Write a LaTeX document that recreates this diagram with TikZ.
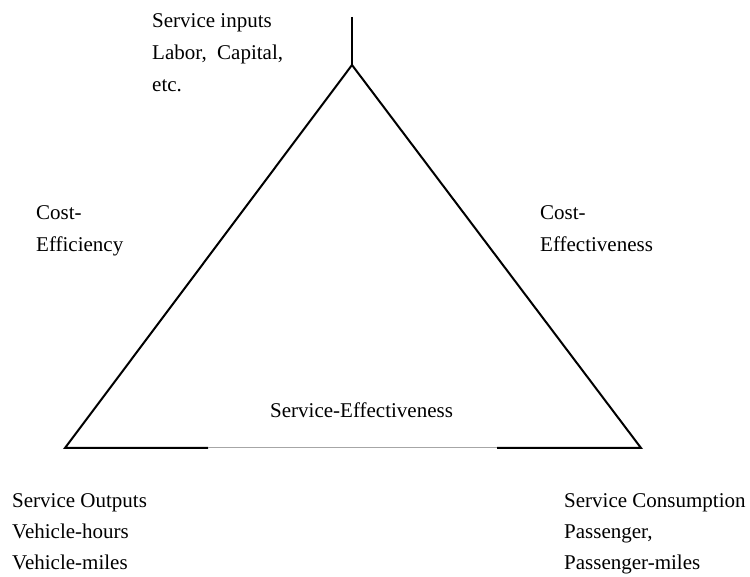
\documentclass[tikz,border=0pt]{standalone}
\usepackage{fontspec}
\setmainfont{Liberation Serif}
\begin{document}
\begin{tikzpicture}[x=1pt,y=1pt,
  lbl/.style={anchor=base west,inner sep=0pt,font=\fontsize{21}{25}\selectfont},
  edge/.style={line width=2pt,line join=miter,line cap=butt},
  thin/.style={line width=1pt,draw=black!35}]
  \useasboundingbox (0,0) rectangle (750,577);
  % triangle corners
  \coordinate (apex) at (352,512);
  \coordinate (top) at (352,560);
  \coordinate (bl) at (65,129);
  \coordinate (br) at (641,129);
  \coordinate (gl) at (208,129);
  \coordinate (gr) at (497,129);
  % edges
  \draw[edge] (top) -- (apex);
  \draw[edge] (gl) -- (bl) -- (apex) -- (br) -- (gr);
  \draw[thin] (gl) -- (gr);
  % input labels
  \node[lbl] (in1) at (152,549) {Service inputs};
  \node[lbl] (in2) at (152,517) {Labor,\ \ Capital,};
  \node[lbl] (in3) at (152,485) {etc.};
  % side labels
  \node[lbl] (ce1) at (36,357) {Cost-};
  \node[lbl] (ce2) at (36,325) {Efficiency};
  \node[lbl] (cf1) at (540,357) {Cost-};
  \node[lbl] (cf2) at (540,325) {Effectiveness};
  \node[lbl] (se) at (270,159) {Service-Effectiveness};
  % output labels
  \node[lbl] (out1) at (12,69) {Service Outputs};
  \node[lbl] (out2) at (12,38) {Vehicle-hours};
  \node[lbl] (out3) at (12,7) {Vehicle-miles};
  \node[lbl] (con1) at (564,69) {Service Consumption};
  \node[lbl] (con2) at (564,38) {Passenger,};
  \node[lbl] (con3) at (564,7) {Passenger-miles};
\end{tikzpicture}
\end{document}
